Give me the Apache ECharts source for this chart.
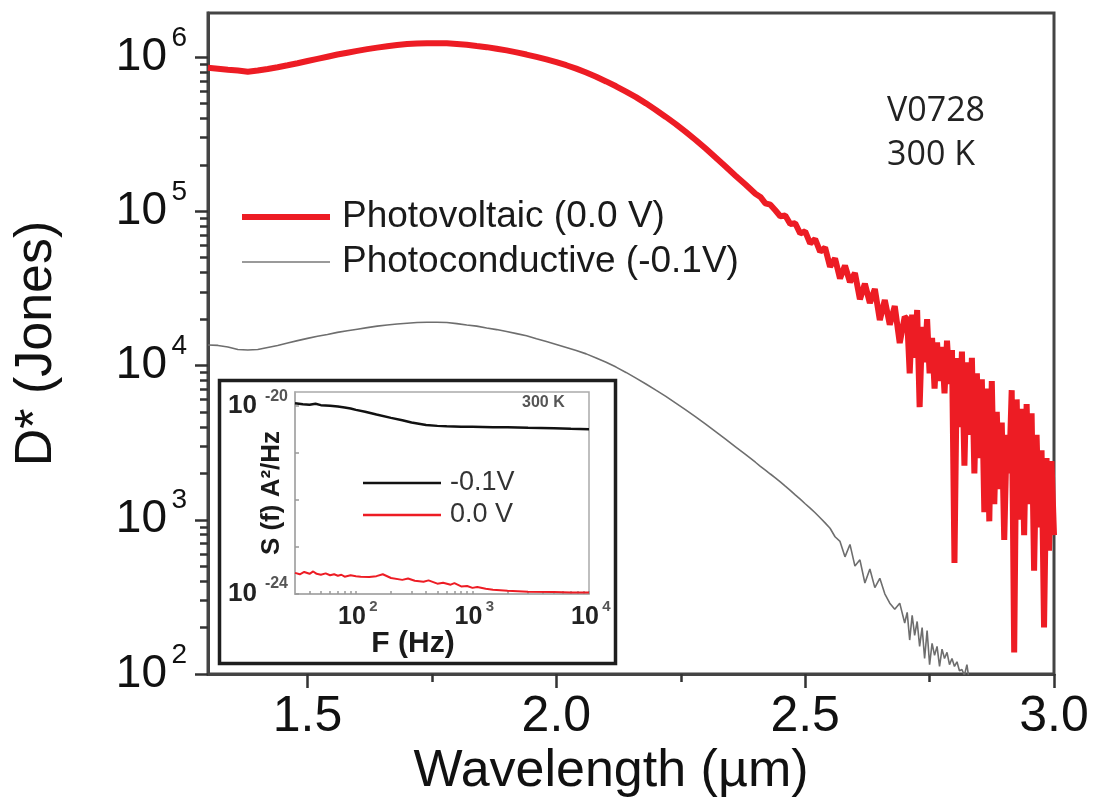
<!DOCTYPE html>
<html><head><meta charset="utf-8">
<script src="https://cdn.jsdelivr.net/npm/echarts@6/dist/echarts.min.js"></script>
<style>html,body{margin:0;padding:0;background:#fff}#c{width:1096px;height:802px}</style>
</head><body><div id="c"></div>
<script>
// ---- main plot data (wavelength in µm, D* in Jones) ----
const wavelength = [
1.30,1.32,1.34,1.36,1.38,1.40,1.42,1.44,1.46,1.48,1.50,1.52,1.54,1.56,1.58,1.60,1.62,1.64,1.66,1.68,
1.70,1.72,1.74,1.76,1.78,1.80,1.82,1.84,1.86,1.88,1.90,1.92,1.94,1.96,1.98,2.00,2.02,2.04,2.06,2.08,
2.10,2.12,2.14,2.16,2.18,2.20,2.22,2.24,2.26,2.28,2.30,2.32,2.34,2.36,2.38,2.40,
2.41,2.42,2.43,2.44,2.45,2.46,2.47,2.48,2.49,2.50,2.51,2.52,2.53,2.54,2.55,2.56,2.57,2.58,2.59,2.60,
2.61,2.62,2.63,2.64,2.65,2.66,2.67,2.68,2.69,2.70,
2.705,2.71,2.715,2.72,2.725,2.73,2.735,2.74,2.745,2.75,2.755,2.76,2.765,2.77,2.775,2.78,2.785,2.79,2.795,2.80,
2.805,2.81,2.815,2.82,2.825,2.83,2.835,2.84,2.845,2.85,2.855,2.86,2.865,2.87,2.875,2.88,2.885,2.89,2.895,2.90,
2.905,2.91,2.915,2.92,2.925,2.93,2.935,2.94,2.945,2.95,2.955,2.96,2.965,2.97,2.975,2.98,2.985,2.99,2.995,3.00];

const photovoltaic = [
8.51e5,8.41e5,8.28e5,8.17e5,8.04e5,8.17e5,8.36e5,8.59e5,8.85e5,9.12e5,9.42e5,9.73e5,1.005e6,1.038e6,1.067e6,1.096e6,1.125e6,1.151e6,1.175e6,1.197e6,
1.213e6,1.225e6,1.230e6,1.230e6,1.227e6,1.216e6,1.202e6,1.180e6,1.159e6,1.132e6,1.104e6,1.072e6,1.038e6,1.002e6,9.66e5,9.27e5,8.85e5,8.41e5,7.94e5,7.45e5,
6.95e5,6.46e5,5.97e5,5.50e5,5.01e5,4.54e5,4.09e5,3.67e5,3.27e5,2.90e5,2.55e5,2.23e5,1.95e5,1.70e5,1.49e5,1.30e5,
1.239e5,1.127e5,1.104e5,1.016e5,9.29e4,9.38e4,8.28e4,8.36e4,7.18e4,7.41e4,6.19e4,6.61e4,5.47e4,5.82e4,4.37e4,4.95e4,3.67e4,4.44e4,3.47e4,3.98e4,
2.69e4,3.39e4,2.54e4,3.13e4,1.97e4,2.66e4,1.84e4,2.43e4,1.40e4,2.07e4,
2.00e4,8.91e3,2.14e4,1.12e4,2.29e4,5.37e3,1.78e4,1.05e4,2.00e4,8.91e3,1.51e4,7.08e3,1.41e4,7.94e3,1.32e4,6.61e3,1.45e4,7.59e3,1.26e4,525,
1.12e4,3.98e3,1.23e4,2.24e3,1.05e4,3.55e3,1.12e4,2.00e3,8.91e3,2.51e3,8.13e3,1.12e3,7.08e3,977,7.94e3,1.26e3,5.01e3,1.58e3,4.27e3,741,
3.55e3,2.00e3,6.92e3,138,6.03e3,1.00e3,5.25e3,794,5.62e3,1.26e3,4.90e3,468,3.55e3,891,2.82e3,200,2.51e3,631,2.40e3,794];

const photoconductive = [
1.36e4,1.35e4,1.32e4,1.27e4,1.26e4,1.27e4,1.31e4,1.35e4,1.40e4,1.45e4,1.50e4,1.55e4,1.59e4,1.64e4,1.68e4,1.72e4,1.76e4,1.80e4,1.83e4,1.86e4,
1.88e4,1.90e4,1.91e4,1.91e4,1.90e4,1.87e4,1.83e4,1.80e4,1.75e4,1.71e4,1.66e4,1.61e4,1.56e4,1.49e4,1.43e4,1.37e4,1.31e4,1.25e4,1.19e4,1.12e4,
1.05e4,9.77e3,9.02e3,8.28e3,7.59e3,6.92e3,6.31e3,5.71e3,5.16e3,4.65e3,4.17e3,3.73e3,3.33e3,2.97e3,2.65e3,2.36e3,
2.22e3,2.10e3,1.98e3,1.87e3,1.76e3,1.65e3,1.55e3,1.45e3,1.36e3,1.27e3,1.19e3,1.11e3,1.03e3,955,881,776,724,575,692,501,
550,389,479,363,417,331,288,263,288,214,
251,166,240,178,219,151,200,126,191,115,158,132,151,112,145,126,138,115,126,112,
120,105,107,98,115,89,79,null,null,null,null,null,null,null,null,null,null,null,null,null,
null,null,null,null,null,null,null,null,null,null,null,null,null,null,null,null,null,null,null,null];

const seriesNames = ['Photovoltaic (0.0 V)', 'Photoconductive (-0.1V)'];
const xTickValues = [1.5, 2.0, 2.5, 3.0];
const xMinorTicks = [1.75, 2.25, 2.75];
const yMajorTicks = [100, 1000, 10000, 100000, 1000000];
const yMinorTicks = [200,300,400,500,600,700,800,900,2000,3000,4000,5000,6000,7000,8000,9000,
  20000,30000,40000,50000,60000,70000,80000,90000,200000,300000,400000,500000,600000,700000,800000,900000];
const annotations = ['V0728', '300 K'];

// ---- inset data: noise spectral density S(f) in A^2/Hz vs frequency in Hz ----
const insetNames = ['-0.1V', '0.0 V'];
const freqBlack = [30,35,40,45,50,60,70,80,90,100,120,150,200,250,300,400,500,600,800,1000,1500,2000,3000,5000,7000,10000];
const noiseBlack = [1.15e-20,1.10e-20,1.07e-20,1.12e-20,1.05e-20,1.02e-20,9.77e-21,9.33e-21,8.91e-21,8.32e-21,7.59e-21,6.61e-21,5.62e-21,5.01e-21,4.47e-21,3.98e-21,3.80e-21,3.72e-21,3.63e-21,3.63e-21,3.55e-21,3.55e-21,3.47e-21,3.39e-21,3.31e-21,3.24e-21];
const freqRed = [30,33,36,40,43,46,50,55,60,65,70,75,80,90,100,110,130,150,170,200,250,280,320,380,420,500,560,650,700,800,900,1000,1100,1300,1500,2000,3000,5000,7000,10000];
const noiseRed = [2.82e-24,2.63e-24,2.95e-24,2.69e-24,3.02e-24,2.69e-24,2.57e-24,2.75e-24,2.51e-24,2.63e-24,2.45e-24,2.57e-24,2.34e-24,2.51e-24,2.40e-24,2.34e-24,2.29e-24,2.40e-24,2.63e-24,2.19e-24,2.00e-24,2.14e-24,1.91e-24,1.82e-24,1.95e-24,1.66e-24,1.74e-24,1.58e-24,1.70e-24,1.45e-24,1.48e-24,1.35e-24,1.41e-24,1.29e-24,1.23e-24,1.17e-24,1.12e-24,1.10e-24,1.07e-24,1.07e-24];
const insetXLabels = [100, 1000, 10000];
const insetXTicks = [40,50,60,70,80,90,100,200,300,400,500,600,700,800,900,1000,2000,3000,4000,5000,6000,7000,8000,9000,10000];
const insetYLabels = [1e-24, 1e-20];
const insetYTicks = [1e-24, 1e-23, 1e-22, 1e-21, 1e-20];

// ---- build ----
const FF = 'Liberation Sans, Arial, sans-serif';
const pair = (xs, ys) => xs.map((x, i) => [x, ys[i]]).filter(p => p[1] != null);
const expOf = v => String(Math.round(Math.log10(v)));
const noLine = {show: false, onZero: false};
const noTick = {show: false};
const noSplit = {show: false};

const chart = echarts.init(document.getElementById('c'), null, {renderer: 'canvas'});
chart.setOption({
  animation: false,
  backgroundColor: '#fff',
  grid: [
    {left: 208, right: 42, top: 13, bottom: 128, show: true, borderColor: '#444', borderWidth: 3, containLabel: false, outerBoundsMode: 'none'},
    {left: 295, top: 392, width: 294, height: 202, show: true, borderColor: '#aaa', borderWidth: 1.5, backgroundColor: '#fff', z: 11, containLabel: false, outerBoundsMode: 'none'}
  ],
  xAxis: [
    // 0: main wavelength axis
    {gridIndex: 0, type: 'value', min: 1.3, max: 3.0, position: 'bottom',
     axisLine: {onZero: false, lineStyle: {color: '#444', width: 3}},
     axisTick: {customValues: xTickValues, length: 14, lineStyle: {color: '#333', width: 2.5}},
     axisLabel: {customValues: xTickValues, formatter: v => v.toFixed(1), margin: 18, fontSize: 50, lineHeight: 50, fontFamily: FF, color: '#111'},
     splitLine: noSplit,
     name: 'Wavelength (µm)', nameLocation: 'middle', nameGap: 72, nameMoveOverlap: false,
     nameTextStyle: {fontSize: 52, lineHeight: 52, fontFamily: FF, color: '#111', padding: [0, 40, 0, 0]}},
    // 1: main minor ticks
    {gridIndex: 0, type: 'value', min: 1.3, max: 3.0, position: 'bottom',
     axisLine: noLine,
     axisTick: {customValues: xMinorTicks, length: 8, lineStyle: {color: '#333', width: 2.5}},
     axisLabel: {show: false}, splitLine: noSplit},
    // 2: inset frequency axis (mantissa labels "10")
    {gridIndex: 1, type: 'log', logBase: 10, min: 30, max: 10000, position: 'bottom', z: 12,
     axisLine: {onZero: false, lineStyle: {color: '#aaa', width: 1.5}},
     axisTick: {inside: true, customValues: insetXTicks, length: 3, lineStyle: {color: '#999', width: 1.5}},
     axisLabel: {customValues: insetXLabels, formatter: () => '10', margin: 11, padding: [0, 8, 0, 0],
       fontSize: 25, lineHeight: 25, fontWeight: 'bold', fontFamily: FF, color: '#222'},
     splitLine: noSplit,
     name: 'F (Hz)', nameLocation: 'middle', nameGap: 35, nameMoveOverlap: false,
     nameTextStyle: {fontSize: 30, fontWeight: 'bold', lineHeight: 30, fontFamily: FF, color: '#1a1a1a', padding: [0, 58, 0, 0]}},
    // 3: inset frequency axis exponents
    {gridIndex: 1, type: 'log', logBase: 10, min: 30, max: 10000, position: 'bottom', z: 12,
     axisLine: noLine, axisTick: noTick, splitLine: noSplit,
     axisLabel: {customValues: insetXLabels, formatter: expOf, margin: 5, padding: [0, 0, 0, 35],
       fontSize: 15, lineHeight: 15, fontWeight: 'bold', fontFamily: FF, color: '#555'}}
  ],
  yAxis: [
    // 0: main D* axis (mantissa labels "10")
    {gridIndex: 0, type: 'log', logBase: 10, min: 100, max: 1.93e6, position: 'left',
     axisLine: {lineStyle: {color: '#444', width: 3}},
     axisTick: {customValues: yMajorTicks, length: 13, lineStyle: {color: '#333', width: 2.5}},
     axisLabel: {customValues: yMajorTicks, formatter: () => '10', margin: 41,
       fontSize: 46, lineHeight: 46, fontFamily: FF, color: '#111'},
     splitLine: noSplit, minorTick: {show: false},
     name: 'D* (Jones)', nameLocation: 'middle', nameGap: 145, nameMoveOverlap: false,
     nameTextStyle: {fontSize: 52, lineHeight: 52, fontFamily: FF, color: '#111'}},
    // 1: main minor ticks + exponents (raised above the tick)
    {gridIndex: 0, type: 'log', logBase: 10, min: 100, max: 1.93e6, position: 'left',
     axisLine: {show: false},
     axisTick: {customValues: yMinorTicks, length: 8, lineStyle: {color: '#333', width: 2.5}},
     axisLabel: {customValues: yMajorTicks, formatter: expOf, margin: 21, verticalAlign: 'bottom',
       fontSize: 28, lineHeight: 38, fontFamily: FF, color: '#111'},
     splitLine: noSplit},
    // 2: inset S(f) axis (mantissa labels)
    {gridIndex: 1, type: 'log', logBase: 10, min: 1e-24, max: 2e-20, position: 'left', z: 12,
     axisLine: {lineStyle: {color: '#aaa', width: 1.5}},
     axisTick: {inside: true, customValues: insetYTicks, length: 4, lineStyle: {color: '#999', width: 1.5}},
     axisLabel: {customValues: insetYLabels, formatter: () => '10', margin: 38,
       fontSize: 26, lineHeight: 26, fontWeight: 'bold', fontFamily: FF, color: '#222'},
     splitLine: noSplit,
     name: 'S (f) A²/Hz', nameLocation: 'middle', nameGap: 10, nameMoveOverlap: false,
     nameTextStyle: {fontSize: 26, fontWeight: 'bold', lineHeight: 26, fontFamily: FF, color: '#1a1a1a'}},
    // 3: inset exponents (raised)
    {gridIndex: 1, type: 'log', logBase: 10, min: 1e-24, max: 2e-20, position: 'left', z: 12,
     axisLine: {show: false}, axisTick: noTick, splitLine: noSplit,
     axisLabel: {customValues: insetYLabels, formatter: expOf, margin: 7, verticalAlign: 'bottom',
       fontSize: 16, lineHeight: 20, fontWeight: 'bold', fontFamily: FF, color: '#555'}}
  ],
  legend: [
    {data: [seriesNames[0]], orient: 'vertical', left: 242, top: 195, padding: 0, icon: 'rect',
     itemWidth: 88, itemHeight: 6, itemGap: 0, selectedMode: false,
     textStyle: {fontSize: 37, lineHeight: 44, fontFamily: FF, color: '#1a1a1a', padding: [0, 0, 0, 7]}},
    {data: [seriesNames[1]], orient: 'vertical', left: 242, top: 240, padding: 0, icon: 'rect',
     itemWidth: 88, itemHeight: 2, itemGap: 0, selectedMode: false, itemStyle: {color: '#9a9a9a'},
     textStyle: {fontSize: 37, lineHeight: 44, fontFamily: FF, color: '#1a1a1a', padding: [0, 0, 0, 7]}},
    {data: insetNames, orient: 'vertical', left: 363, top: 467, padding: 0, z: 30, icon: 'rect',
     itemWidth: 78, itemHeight: 2.5, itemGap: 0, selectedMode: false,
     textStyle: {fontSize: 27, lineHeight: 32, fontFamily: FF, color: '#333', padding: [0, 0, 0, 4]}}
  ],
  graphic: {elements: [
    {type: 'rect', z: 10, shape: {x: 219.5, y: 380.5, width: 396, height: 283},
     style: {fill: '#fff', stroke: '#1e1e1e', lineWidth: 3.5}},
    {type: 'text', z: 5, x: 887, y: 111, style: {text: annotations[0], fontSize: 34, fontFamily: 'Open Sans', fill: '#222', verticalAlign: 'middle'}},
    {type: 'text', z: 5, x: 887, y: 155, style: {text: annotations[1], fontSize: 34, fontFamily: 'Open Sans', fill: '#222', verticalAlign: 'middle'}},
    {type: 'text', z: 30, x: 522, y: 403, style: {text: '300 K', fontSize: 16, fontWeight: 'bold', fontFamily: FF, fill: '#555', verticalAlign: 'middle'}}
  ]},
  series: [
    {name: seriesNames[0], type: 'line', xAxisIndex: 0, yAxisIndex: 0, data: pair(wavelength, photovoltaic),
     symbol: 'none', showSymbol: false, z: 4, lineStyle: {color: '#ED1C24', width: 6}, itemStyle: {color: '#ED1C24'}},
    {name: seriesNames[1], type: 'line', xAxisIndex: 0, yAxisIndex: 0, data: pair(wavelength, photoconductive),
     symbol: 'none', showSymbol: false, z: 3, lineStyle: {color: '#6e6e6e', width: 1.6}, itemStyle: {color: '#6e6e6e'}},
    {name: insetNames[0], type: 'line', xAxisIndex: 2, yAxisIndex: 2, data: pair(freqBlack, noiseBlack),
     symbol: 'none', showSymbol: false, z: 20, lineStyle: {color: '#111', width: 2.5}, itemStyle: {color: '#111'}},
    {name: insetNames[1], type: 'line', xAxisIndex: 2, yAxisIndex: 2, data: pair(freqRed, noiseRed),
     symbol: 'none', showSymbol: false, z: 20, lineStyle: {color: '#ED1C24', width: 2}, itemStyle: {color: '#ED1C24'}}
  ]
});
</script></body></html>
